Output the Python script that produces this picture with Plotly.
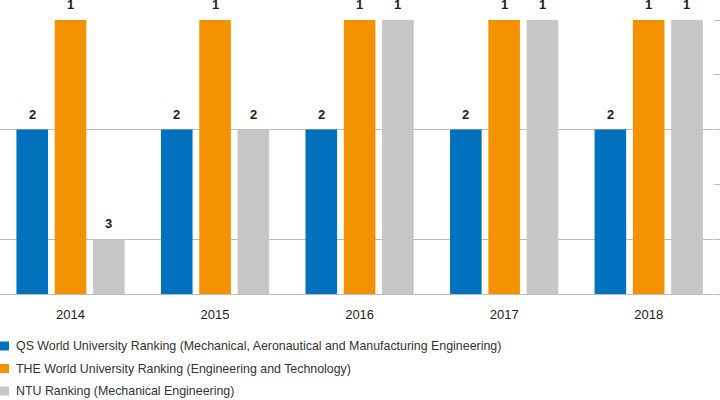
import plotly.graph_objects as go

# ---- data ----
years = ["2014", "2015", "2016", "2017", "2018"]
series_names = [
    "QS World University Ranking (Mechanical, Aeronautical and Manufacturing Engineering)",
    "THE World University Ranking (Engineering and Technology)",
    "NTU Ranking (Mechanical Engineering)",
]
qs_rank = [2, 2, 2, 2, 2]
the_rank = [1, 1, 1, 1, 1]
ntu_rank = [3, 2, 1, 1, 1]
series_values = [qs_rank, the_rank, ntu_rank]
colors = ["#0071BC", "#F39200", "#C6C6C6"]

# ---- styling / layout ----
W, H = 720, 400
ML, MR, MT, MB = 0, 7, 20, 106
PW = W - ML - MR
PH = H - MT - MB
BASE = 3.5
X_RANGE = [-0.488, 4.445]
BARGAP = 0.205
BARGROUPGAP = 0.175
GRID = "#BBBBBB"
FONT = "Liberation Sans, Arial, Helvetica, sans-serif"

px_per_unit = PW / (X_RANGE[1] - X_RANGE[0])
slot_px = (1 - BARGAP) / len(series_values) * px_per_unit

fig = go.Figure()
annotations = []
shapes = []
for i, (name, ranks, color) in enumerate(zip(series_names, series_values, colors)):
    fig.add_trace(go.Bar(
        x=years,
        y=[r - BASE for r in ranks],
        base=BASE,
        name=name,
        marker=dict(color=color, line=dict(width=0)),
        showlegend=False,
        hovertemplate="%{x}: %{customdata}<extra>" + name + "</extra>",
        customdata=ranks,
    ))
    shift = (i - (len(series_values) - 1) / 2) * slot_px
    for k, r in enumerate(ranks):
        annotations.append(dict(
            x=k, y=r, xref="x", yref="y", text=str(r), showarrow=False,
            xshift=shift, yshift=6, yanchor="bottom", xanchor="center",
            font=dict(family=FONT, size=13, color="#222222", weight="bold"),
        ))
    # manual legend row
    row_y = 346 + i * 22.5
    yp = (MT + PH - row_y) / PH
    half = 4.5 / PH
    shapes.append(dict(type="rect", xref="paper", yref="paper",
                       x0=0, x1=9 / PW, y0=yp - half, y1=yp + half,
                       fillcolor=color, line=dict(width=0)))
    annotations.append(dict(
        x=14 / PW, y=yp, xref="paper", yref="paper", text=name, showarrow=False,
        xanchor="left", yanchor="middle",
        font=dict(family=FONT, size=12.4, color="#333333"),
    ))

fig.update_layout(
    width=W, height=H,
    margin=dict(l=ML, r=MR, t=MT, b=MB, pad=0),
    paper_bgcolor="white", plot_bgcolor="white",
    barmode="group", bargap=BARGAP, bargroupgap=BARGROUPGAP,
    showlegend=False,
    annotations=annotations,
    shapes=shapes,
    font=dict(family=FONT, color="#222222"),
    xaxis=dict(
        type="category", range=X_RANGE, showgrid=False, zeroline=False,
        showline=True, linecolor=GRID, linewidth=1, ticks="",
        ticklabelstandoff=8,
        tickfont=dict(family=FONT, size=13, color="#222222"),
        fixedrange=True,
    ),
    yaxis=dict(
        range=[BASE, 1], side="right", tickmode="array", tickvals=[1, 2, 3],
        showticklabels=False, ticks="outside", ticklen=7, tickcolor=GRID, tickwidth=1,
        showgrid=True, gridcolor=GRID, gridwidth=1, zeroline=False, showline=False,
        minor=dict(tickmode="array", tickvals=[1.5, 2.5, 3.5], ticks="outside",
                   ticklen=7, tickcolor=GRID, tickwidth=1, showgrid=False),
        fixedrange=True,
    ),
)

fig.write_html(
    "out.html",
    config={"displayModeBar": False},
    post_script="document.body.style.margin='0';document.body.style.padding='0';",
)
